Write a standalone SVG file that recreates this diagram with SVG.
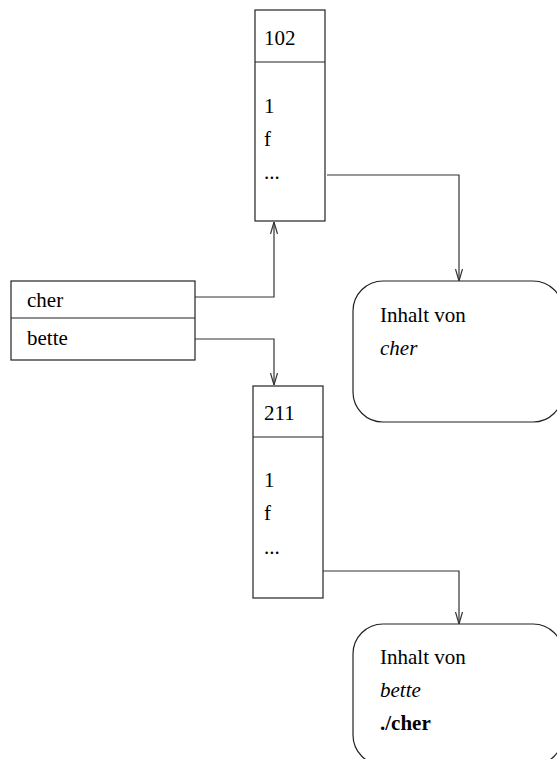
<svg xmlns="http://www.w3.org/2000/svg" width="557" height="759" viewBox="0 0 557 759">
  <style>
    .box { fill: none; stroke: #222; stroke-width: 1.2; }
    .edge { fill: none; stroke: #333; stroke-width: 1.2; }
    text { font-family: "Liberation Serif", "Times New Roman", serif; font-size: 21px; fill: #000; }
    .it { font-style: italic; }
    .bd { font-weight: bold; }
  </style>
  <defs>
    <marker id="open-arrow" viewBox="0 0 12 8" refX="12" refY="4" markerWidth="12" markerHeight="8" markerUnits="userSpaceOnUse" orient="auto">
      <path d="M0,0.5 L12,4 L0,7.5" fill="none" stroke="#333" stroke-width="1.2"/>
    </marker>
  </defs>
  <rect width="557" height="759" fill="#fff"/>

  <!-- inode 102 -->
  <g id="inode-102">
    <rect class="box" x="255" y="10" width="70" height="211"/>
    <line class="box" x1="255" y1="62" x2="325" y2="62"/>
    <text x="264" y="45">102</text>
    <text x="264" y="113">1</text>
    <text x="264" y="146">f</text>
    <text x="264" y="179">...</text>
  </g>

  <!-- directory entries -->
  <g id="directory">
    <rect class="box" x="11" y="281" width="184" height="79"/>
    <line class="box" x1="11" y1="318" x2="195" y2="318"/>
    <text x="27" y="307">cher</text>
    <text x="27" y="345">bette</text>
  </g>

  <!-- inode 211 -->
  <g id="inode-211">
    <rect class="box" x="253" y="386" width="70" height="212"/>
    <line class="box" x1="253" y1="437" x2="323" y2="437"/>
    <text x="264" y="420">211</text>
    <text x="264" y="487">1</text>
    <text x="264" y="520">f</text>
    <text x="264" y="554">...</text>
  </g>

  <!-- data block of cher -->
  <g id="content-cher">
    <rect class="box" x="353" y="281" width="210" height="141" rx="30" ry="30"/>
    <text x="380" y="322">Inhalt von</text>
    <text class="it" x="380" y="355">cher</text>
  </g>

  <!-- data block of bette -->
  <g id="content-bette">
    <rect class="box" x="353" y="624" width="210" height="141" rx="30" ry="30"/>
    <text x="380" y="664">Inhalt von</text>
    <text class="it" x="380" y="697">bette</text>
    <text class="bd" x="380" y="730">./cher</text>
  </g>

  <!-- connectors -->
  <g id="connectors">
    <polyline class="edge" points="195,297 274,297 274,222" marker-end="url(#open-arrow)"/>
    <polyline class="edge" points="195,339 274,339 274,385" marker-end="url(#open-arrow)"/>
    <polyline class="edge" points="327,175 459,175 459,281" marker-end="url(#open-arrow)"/>
    <polyline class="edge" points="323,571 459,571 459,624" marker-end="url(#open-arrow)"/>
  </g>
</svg>
